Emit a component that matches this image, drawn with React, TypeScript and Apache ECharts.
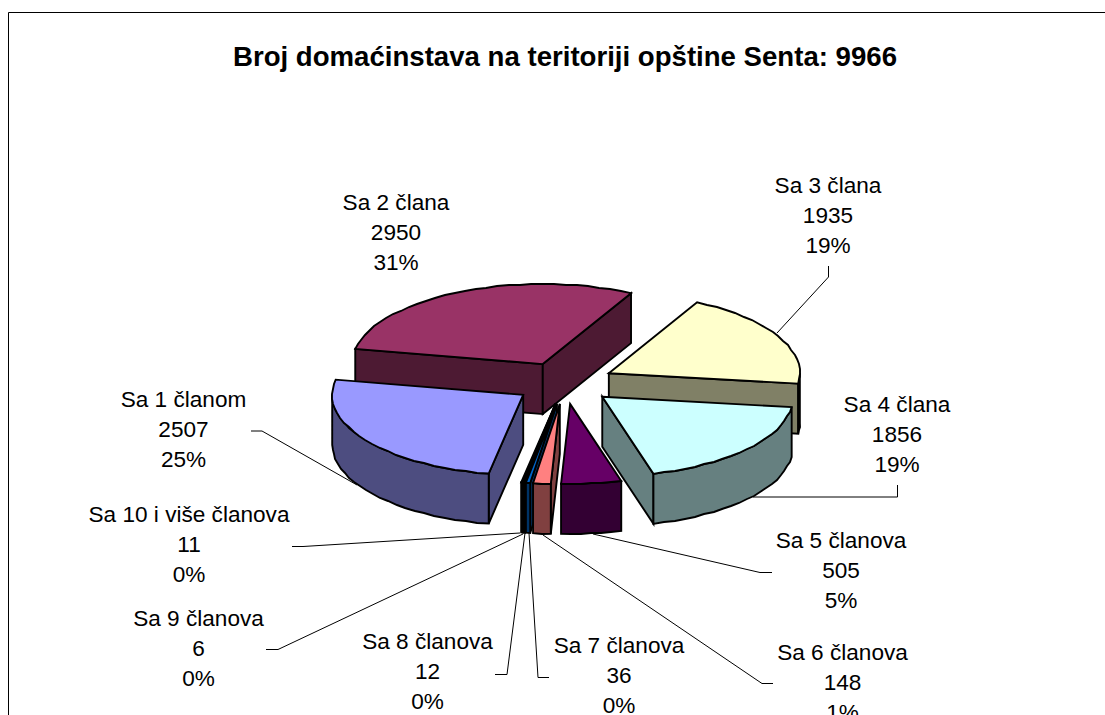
import React, { useEffect, useRef } from "react";
import * as echarts from "echarts";

const categories = [
  "Sa 1 članom", "Sa 2 člana", "Sa 3 člana", "Sa 4 člana", "Sa 5 članova",
  "Sa 6 članova", "Sa 7 članova", "Sa 8 članova", "Sa 9 članova", "Sa 10 i više članova",
];
const householdCounts = [2507, 2950, 1935, 1856, 505, 148, 36, 12, 6, 11];
const percentLabels = ["25%", "31%", "19%", "19%", "5%", "1%", "0%", "0%", "0%", "0%"];
const topColors = ["#9999FF", "#993366", "#FFFFCC", "#CCFFFF", "#660066", "#FF8080", "#0066CC", "#CCCCFF", "#000080", "#FF00FF"];
const sideColors = ["#4D4D80", "#4D1A33", "#808066", "#668080", "#330033", "#804040", "#003366", "#666680", "#000040", "#800080"];
const titleText = "Broj domaćinstava na teritoriji opštine Senta: 9966";

// layout only
const drawOrder = [1, 2, 0, 3, 4, 9, 8, 7, 6, 5];
const labelCenters = [
  [183.5, 399], [396, 202], [828, 185], [897, 404], [841, 540],
  [842.5, 652], [619, 645], [427.5, 641], [198.5, 618], [189, 514],
];
const leaderPaths = [
  [[251, 431], [262, 431], [357, 485]],
  [],
  [[828.5, 266], [828.5, 277], [777, 333]],
  [[753, 497], [897.5, 497], [897.5, 485]],
  [[772, 572.5], [760, 572.5], [593, 534]],
  [[773, 683.5], [762, 683.5], [543, 535]],
  [[549, 677.5], [538, 677.5], [529, 533]],
  [[495, 674.5], [507, 674.5], [525, 533]],
  [[266, 649.5], [278, 649.5], [523, 534]],
  [[292, 546.5], [303, 546.5], [520, 533]],
];
const CX = 564.5, CY = 383, RX = 191, RY = 80, DEPTH = 50, EX = 50, EY = 21;
const FIRST_ANGLE = 259.6, STEP = 3.5, GRID = 1;
const LINE_H = 30.2;

const rad = (d: number) => (d * Math.PI) / 180;
const total = householdCounts.reduce((a, b) => a + b, 0);
const snap = (v: number) => Math.round(v / GRID) * GRID;

function sliceAngles(i: number) {
  let a0 = FIRST_ANGLE;
  for (let k = 0; k < i; k++) a0 -= (householdCounts[k] / total) * 360;
  return [a0, a0 - (householdCounts[i] / total) * 360];
}

function arcPoints(cx: number, cy: number, hi: number, lo: number, dz: number) {
  const pts: number[][] = [];
  const n = Math.max(1, Math.ceil((hi - lo) / STEP));
  for (let j = 0; j <= n; j++) {
    const a = rad(hi - ((hi - lo) * j) / n);
    const x = cx + RX * Math.cos(a);
    const y = cy - RY * Math.sin(a);
    const inner = j > 0 && j < n;
    pts.push(inner ? [snap(x), snap(y) + dz] : [x, y + dz]);
  }
  return pts;
}

function renderSlice(params: any, api: any) {
  const idx = drawOrder[params.dataIndex];
  api.value(0);
  const [a0, a1] = sliceAngles(idx);
  const mid = rad((a0 + a1) / 2);
  const cx = CX + EX * Math.cos(mid);
  const cy = CY - EY * Math.sin(mid);
  const top = topColors[idx];
  const side = sideColors[idx];
  const line = { stroke: "#000", lineWidth: 1.9, lineJoin: "miter" };
  const poly = (points: number[][], fill: string) => ({
    type: "polygon",
    shape: { points },
    style: { fill, ...line },
  });
  const children: any[] = [];
  const wall = (a: number) => {
    const [p] = arcPoints(cx, cy, a, a - 1, 0);
    children.push(poly([[cx, cy], p, [p[0], p[1] + DEPTH], [cx, cy + DEPTH]], side));
  };
  if (Math.cos(rad(a0)) < 0) wall(a0);
  if (Math.cos(rad(a1)) > 0) wall(a1);
  const outer = (hi: number, lo: number) => {
    if (hi <= lo) return;
    const upper = arcPoints(cx, cy, hi, lo, 0);
    const lower = arcPoints(cx, cy, hi, lo, DEPTH).reverse();
    children.push(poly([...upper, ...lower], side));
  };
  outer(Math.min(a0, 360), Math.max(a1, 180));
  outer(Math.min(a0, 0), Math.max(a1, -180));
  children.push(poly([[cx, cy], ...arcPoints(cx, cy, a0, a1, 0)], top));
  return { type: "group", children };
}

function renderLabel(params: any) {
  const i = params.dataIndex;
  const [x, y] = labelCenters[i];
  const rows = [categories[i], String(householdCounts[i]), percentLabels[i]];
  const children: any[] = rows.map((text, r) => ({
    type: "text",
    style: {
      text,
      x,
      y: y + r * LINE_H,
      align: "center",
      verticalAlign: "middle",
      fill: "#000",
      font: '22.6px "Liberation Sans"',
    },
  }));
  if (leaderPaths[i].length) {
    children.push({
      type: "polyline",
      shape: { points: leaderPaths[i] },
      style: { fill: "none", stroke: "#000", lineWidth: 1 },
    });
  }
  return { type: "group", children };
}

export default function App() {
  const ref = useRef<HTMLDivElement>(null);
  useEffect(() => {
    document.body.style.margin = "0";
    const chart = echarts.init(ref.current!, null, { renderer: "svg" });
    chart.setOption({
      animation: false,
      backgroundColor: "#fff",
      title: {
        text: titleText,
        left: 560,
        top: 37,
        textAlign: "center",
        textStyle: { fontFamily: "Liberation Sans", fontWeight: "bold", fontSize: 27.6, color: "#000" },
      },
      graphic: [
        {
          type: "polyline",
          silent: true,
          shape: { points: [[8.5, 715], [8.5, 12.5], [1105, 12.5]] },
          style: { fill: "none", stroke: "#000", lineWidth: 1 },
        },
      ],
      series: [
        {
          type: "custom",
          coordinateSystem: "none",
          silent: true,
          z: 2,
          data: categories.map((name, i) => ({ name, value: [householdCounts[i]] })),
          renderItem: renderLabel,
        },
        {
          type: "custom",
          coordinateSystem: "none",
          silent: true,
          z: 3,
          data: drawOrder.map((i) => ({ name: categories[i], value: [householdCounts[i]] })),
          renderItem: renderSlice,
        },
      ],
    });
    return () => chart.dispose();
  }, []);
  return <div ref={ref} style={{ width: 1105, height: 715, position: "absolute", left: 0, top: 0, overflow: "hidden" }} />;
}
